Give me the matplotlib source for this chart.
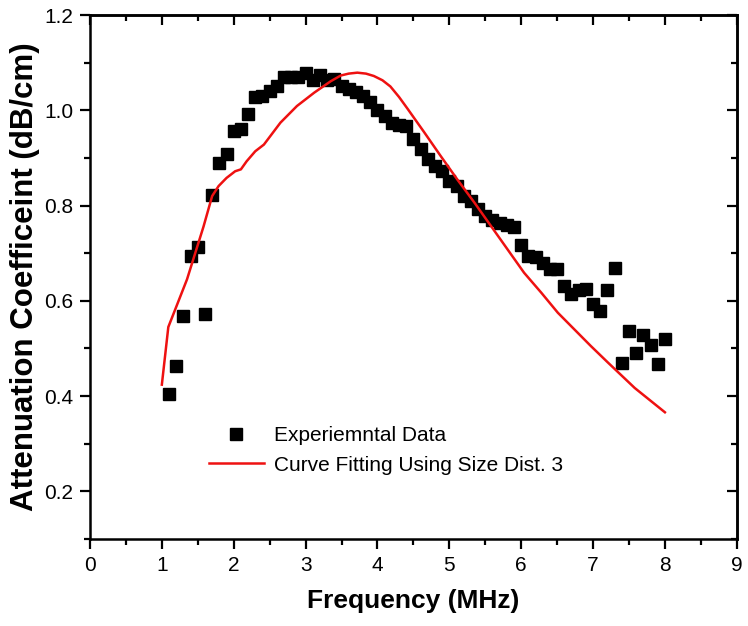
import matplotlib
matplotlib.use("Agg")
import matplotlib.pyplot as plt
from matplotlib.ticker import MultipleLocator

# --- datos ---
freq_exp = [1.1, 1.2, 1.3, 1.4, 1.5, 1.6, 1.7, 1.8, 1.9, 2.0,
            2.1, 2.2, 2.3, 2.4, 2.5, 2.6, 2.7, 2.8, 2.9, 3.0,
            3.1, 3.2, 3.3, 3.4, 3.5, 3.6, 3.7, 3.8, 3.9, 4.0,
            4.1, 4.2, 4.3, 4.4, 4.5, 4.6, 4.7, 4.8, 4.9, 5.0,
            5.1, 5.2, 5.3, 5.4, 5.5, 5.6, 5.7, 5.8, 5.9, 6.0,
            6.1, 6.2, 6.3, 6.4, 6.5, 6.6, 6.7, 6.8, 6.9, 7.0,
            7.1, 7.2, 7.3, 7.4, 7.5, 7.6, 7.7, 7.8, 7.9, 8.0]
atten_exp = [0.405, 0.463, 0.569, 0.695, 0.714, 0.572, 0.822, 0.889, 0.908, 0.956,
             0.960, 0.993, 1.028, 1.029, 1.040, 1.050, 1.070, 1.069, 1.070, 1.078,
             1.064, 1.074, 1.063, 1.066, 1.052, 1.045, 1.039, 1.031, 1.017, 1.000,
             0.987, 0.974, 0.970, 0.967, 0.939, 0.918, 0.898, 0.884, 0.872, 0.851,
             0.842, 0.820, 0.809, 0.792, 0.779, 0.769, 0.764, 0.760, 0.755, 0.718,
             0.694, 0.692, 0.680, 0.667, 0.667, 0.632, 0.615, 0.622, 0.625, 0.594,
             0.578, 0.622, 0.669, 0.470, 0.537, 0.490, 0.529, 0.508, 0.468, 0.519]

freq_fit = [1.0, 1.09, 1.35, 1.58, 1.70, 1.79, 1.90, 2.02, 2.10, 2.18,
            2.30, 2.42, 2.65, 2.88, 3.12, 3.35, 3.49, 3.60, 3.72, 3.84,
            3.95, 4.07, 4.18, 4.30, 4.42, 4.65, 4.88, 5.11, 5.35, 5.58,
            5.81, 6.04, 6.28, 6.51, 6.74, 6.97, 7.21, 7.58, 8.0]
atten_fit = [0.424, 0.545, 0.645, 0.756, 0.820, 0.841, 0.858, 0.872, 0.876, 0.893,
             0.914, 0.928, 0.974, 1.009, 1.037, 1.061, 1.073, 1.077, 1.079, 1.077,
             1.072, 1.063, 1.050, 1.028, 1.003, 0.954, 0.904, 0.855, 0.806, 0.757,
             0.708, 0.659, 0.617, 0.575, 0.540, 0.505, 0.470, 0.417, 0.366]

label_exp = "Experiemntal Data"
label_fit = "Curve Fitting Using Size Dist. 3"

plt.rcParams['font.family'] = ['Liberation Sans', 'DejaVu Sans']

fig = plt.figure(figsize=(7.48, 6.26), dpi=100)
ax = fig.add_axes([0.1203, 0.139, 0.8647, 0.837])

ax.plot(freq_exp, atten_exp, 's', color='black', ms=8.5, label=label_exp, zorder=2)
ax.plot(freq_fit, atten_fit, '-', color='#ee1111', lw=1.8, label=label_fit, zorder=3)

ax.set_xlim(0, 9)
ax.set_ylim(0.1, 1.2)
ax.xaxis.set_major_locator(MultipleLocator(1))
ax.xaxis.set_minor_locator(MultipleLocator(0.5))
ax.yaxis.set_minor_locator(MultipleLocator(0.1))
ax.set_yticks([0.2, 0.4, 0.6, 0.8, 1.0, 1.2])
ax.set_yticklabels(["0.2", "0.4", "0.6", "0.8", "1.0", "1.2"])

for s in ax.spines.values():
    s.set_linewidth(1.8)
ax.tick_params(which='major', direction='out', length=7, width=1.6, labelsize=15, pad=5)
ax.tick_params(which='minor', direction='out', length=4, width=1.6)

# ejes espejo (arriba / derecha) con ticks hacia dentro
top = ax.secondary_xaxis('top')
top.xaxis.set_major_locator(MultipleLocator(1))
top.xaxis.set_minor_locator(MultipleLocator(0.5))
top.tick_params(which='major', direction='in', length=7, width=1.6, labeltop=False)
top.tick_params(which='minor', direction='in', length=4, width=1.6)
top.spines['top'].set_linewidth(1.8)
right = ax.secondary_yaxis('right')
right.yaxis.set_major_locator(MultipleLocator(0.2))
right.yaxis.set_minor_locator(MultipleLocator(0.1))
right.tick_params(which='major', direction='in', length=7, width=1.6, labelright=False)
right.tick_params(which='minor', direction='in', length=4, width=1.6)
right.spines['right'].set_linewidth(1.8)

ax.set_xlabel("Frequency (MHz)", fontsize=19, fontweight='bold', labelpad=10)
ax.set_ylabel("Attenuation Coefficeint (dB/cm)", fontsize=22.5, fontweight='bold', labelpad=3)

ax.legend(loc='upper left', bbox_to_anchor=(0.184, 0.216), frameon=False, fontsize=15,
          handlelength=2.64, handletextpad=0.48, labelspacing=0.52, borderpad=0,
          borderaxespad=0, numpoints=1)

fig.savefig("out.png", dpi=100)
